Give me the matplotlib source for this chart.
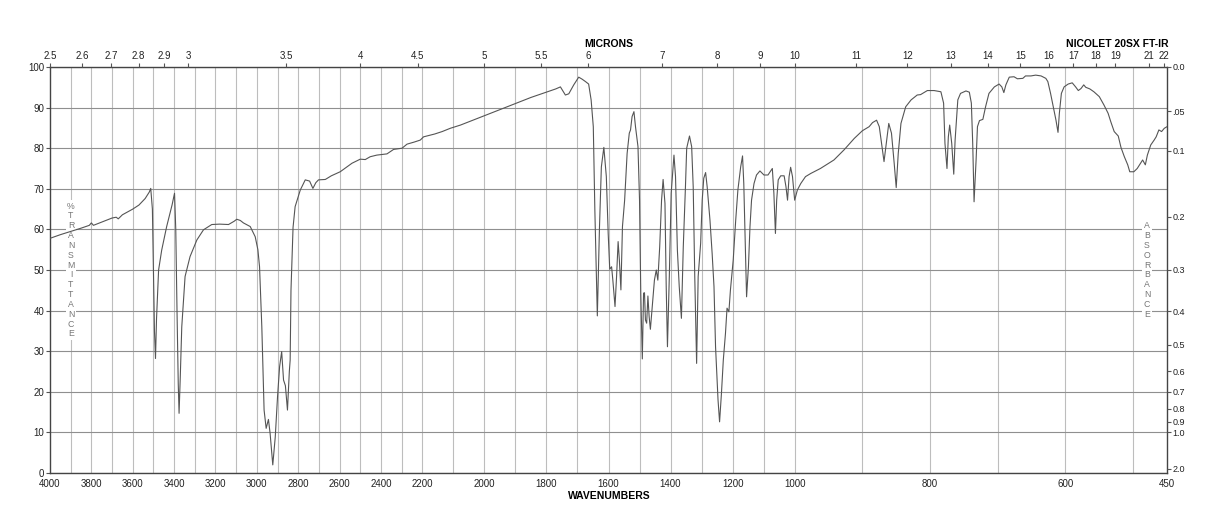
import numpy as np
import matplotlib
matplotlib.use("Agg")
import matplotlib.pyplot as plt

# --- Spectrum data ---
wavenumber = [
    4000, 3950, 3900, 3850, 3810, 3800, 3790, 3750, 3700, 3680, 3670, 3650, 3600, 3570, 3540, 3520,
    3513, 3505, 3500, 3495, 3490, 3485, 3475, 3460, 3436, 3410, 3398, 3392, 3386, 3380, 3376, 3370,
    3363, 3347, 3323, 3290, 3258, 3218, 3180, 3137, 3110, 3097, 3080, 3065, 3032, 3008, 2995, 2987,
    2976, 2965, 2955, 2944, 2936, 2923, 2911, 2900, 2890, 2880, 2871, 2862, 2852, 2843, 2839, 2835,
    2825, 2815, 2790, 2766, 2745, 2729, 2715, 2702, 2669, 2640, 2597, 2570, 2540, 2500, 2476, 2452,
    2420, 2371, 2339, 2298, 2274, 2240, 2210, 2196, 2160, 2136, 2110, 2077, 2040, 2000, 1950, 1900,
    1850, 1800, 1770, 1755, 1739, 1728, 1712, 1696, 1685, 1674, 1664, 1656, 1649, 1644, 1636, 1629,
    1623, 1615, 1607, 1601, 1596, 1590, 1586, 1579, 1574, 1569, 1565, 1560, 1555, 1548, 1540, 1533,
    1529, 1524, 1518, 1513, 1505, 1500, 1496, 1491, 1487, 1484, 1481, 1477, 1473, 1469, 1465, 1459,
    1452, 1446, 1441, 1435, 1429, 1424, 1418, 1414, 1410, 1404, 1398, 1389, 1384, 1378, 1372, 1365,
    1359, 1352, 1348, 1339, 1332, 1327, 1322, 1316, 1311, 1303, 1298, 1293, 1287, 1282, 1273, 1266,
    1260, 1255, 1247, 1242, 1236, 1230, 1223, 1218, 1212, 1207, 1198, 1190, 1183, 1174, 1168, 1164,
    1159, 1155, 1149, 1144, 1139, 1131, 1123, 1112, 1099, 1086, 1072, 1067, 1062, 1058, 1053, 1045,
    1034, 1028, 1023, 1018, 1013, 1007, 1000, 996, 991, 984, 976, 962, 942, 927, 912, 900,
    890, 885, 879, 875, 871, 868, 864, 861, 857, 853, 850, 847, 843, 836, 828, 819,
    814, 804, 794, 784, 780, 778, 775, 773, 771, 768, 765, 763, 759, 755, 747, 742,
    739, 737, 735, 732, 730, 727, 722, 718, 713, 705, 698, 694, 691, 688, 683, 676,
    671, 663, 659, 651, 644, 636, 629, 626, 622, 618, 614, 611, 609, 606, 602, 596,
    590, 585, 581, 577, 573, 570, 564, 558, 550, 543, 537, 533, 528, 522, 518, 513,
    508, 505, 499, 494, 489, 486, 482, 479, 474, 469, 466, 462, 458, 454, 450,
]
transmittance = [
    57.8, 58.7, 59.5, 60.3, 61.0, 61.6, 61.0, 61.8, 62.8, 63.0, 62.6, 63.6, 65.0, 66.0, 67.6, 69.2,
    70.1, 65.0, 50.0, 35.0, 28.2, 38.0, 50.0, 54.9, 60.7, 66.0, 68.9, 60.0, 40.0, 22.0, 14.7, 24.0,
    36.0, 48.4, 53.3, 57.4, 59.9, 61.2, 61.3, 61.2, 62.0, 62.5, 62.2, 61.6, 60.7, 58.2, 55.0, 50.8,
    36.0, 15.5, 11.0, 13.2, 9.8, 2.0, 8.9, 18.8, 26.2, 29.9, 22.9, 21.5, 15.5, 25.0, 27.8, 45.0,
    60.5, 65.6, 69.7, 72.2, 71.9, 70.1, 71.5, 72.2, 72.3, 73.2, 74.2, 75.2, 76.3, 77.3, 77.2, 77.9,
    78.3, 78.6, 79.7, 80.0, 81.0, 81.5, 82.0, 82.8, 83.5, 84.1, 84.9, 85.7, 86.8, 88.0, 89.5, 91.0,
    92.5, 93.8, 94.6, 95.1, 93.1, 93.4, 95.6, 97.5, 97.0, 96.4, 95.8, 91.9, 85.3, 64.8, 38.7, 60.7,
    75.4, 80.2, 73.0, 59.0, 50.2, 50.8, 47.5, 41.0, 48.4, 57.0, 52.5, 45.1, 60.7, 67.2, 78.7, 83.7,
    84.5, 87.8, 89.0, 85.3, 80.4, 67.2, 44.3, 28.1, 44.3, 44.4, 37.7, 36.9, 43.6, 38.5, 35.4, 41.0,
    47.5, 50.0, 47.5, 55.7, 67.2, 72.3, 66.4, 45.9, 31.1, 48.4, 68.9, 78.3, 73.0, 54.9, 45.9, 38.1,
    55.7, 70.5, 80.0, 83.0, 80.4, 70.5, 48.4, 27.0, 48.4, 56.6, 67.2, 72.6, 74.0, 70.5, 62.3, 54.1,
    45.9, 31.1, 18.0, 12.6, 19.6, 27.8, 34.4, 40.6, 39.7, 45.1, 52.5, 62.3, 69.7, 75.4, 78.1, 71.3,
    55.7, 43.4, 50.8, 60.7, 67.2, 71.3, 73.4, 74.4, 73.4, 73.4, 75.0, 68.9, 59.0, 67.2, 72.2, 73.2,
    73.2, 70.5, 67.2, 73.0, 75.3, 73.0, 67.2, 69.7, 71.3, 73.0, 73.8, 75.0, 77.1, 79.6, 82.4, 84.3,
    85.3, 86.3, 86.9, 85.3, 80.4, 76.7, 82.0, 86.1, 83.7, 76.3, 70.3, 78.7, 86.1, 90.2, 91.9, 93.1,
    93.2, 94.2, 94.2, 93.9, 91.1, 81.2, 75.0, 82.8, 85.7, 81.2, 73.6, 82.0, 91.9, 93.5, 94.1, 93.8,
    91.1, 81.2, 66.8, 77.1, 85.3, 86.8, 87.1, 90.2, 93.5, 95.1, 95.8, 95.1, 93.7, 95.6, 97.5, 97.6,
    97.1, 97.2, 97.8, 97.8, 98.0, 97.8, 97.2, 96.4, 93.5, 90.2, 86.9, 83.9, 88.6, 93.5, 95.1, 95.8,
    96.1, 95.1, 94.2, 94.7, 95.6, 95.0, 94.6, 93.9, 92.7, 90.6, 88.6, 86.5, 84.1, 83.0, 80.2, 77.9,
    75.9, 74.2, 74.2, 75.0, 76.3, 77.1, 75.9, 78.3, 80.8, 82.0, 82.8, 84.5, 84.1, 84.9, 85.3,
]

# --- Axis labels ---
wn_ticks = [4000, 3800, 3600, 3400, 3200, 3000, 2800, 2600, 2400, 2200,
            2000, 1800, 1600, 1400, 1200, 1000, 800, 600, 450]
micron_ticks = [2.5, 2.6, 2.7, 2.8, 2.9, 3, 3.5, 4, 4.5, 5, 5.5, 6, 7, 8, 9, 10,
                11, 12, 13, 14, 15, 16, 17, 18, 19, 21, 22]
absorb_ticks = [0.0, 0.05, 0.1, 0.2, 0.3, 0.4, 0.5, 0.6, 0.7, 0.8, 0.9, 1.0, 2.0]
absorb_labels = ['0.0', '.05', '0.1', '0.2', '0.3', '0.4', '0.5', '0.6', '0.7',
                 '0.8', '0.9', '1.0', '2.0']

# chart paper: 4000-2200, 2200-1000 and 1000-450 each take a third of the width
BREAKS = [450, 1000, 2200, 4000]
SEGS = [0, 1, 2, 3]


def fwd(w):
    return np.interp(w, BREAKS, SEGS)


def inv(u):
    return np.interp(u, SEGS, BREAKS)


plt.rcParams['font.family'] = ['Liberation Sans', 'DejaVu Sans']
plt.rcParams['font.size'] = 7

fig = plt.figure(figsize=(12.18, 5.28), dpi=100)
rect = [50 / 1218, 1 - 473 / 528, 1117 / 1218, 406 / 528]
ax = fig.add_axes(rect)

ax.set_xscale('function', functions=(fwd, inv))
ax.set_xlim(4000, 450)
ax.set_ylim(0, 100)
ax.set_axisbelow(True)

ax.plot(wavenumber, transmittance, color='#555555', lw=0.8, zorder=3)

# grid
ax.xaxis.remove_overlapping_locs = False
ax.set_xticks(wn_ticks)
ax.set_xticklabels([str(t) for t in wn_ticks])
ax.set_xticks(range(500, 4000, 100), minor=True)
ax.set_yticks(range(0, 101, 10))
ax.grid(which='minor', axis='x', color='#bdbdbd', lw=0.8)
ax.grid(which='major', axis='y', color='#8f8f8f', lw=0.8)
ax.tick_params(axis='x', which='both', length=0, pad=4, colors='#222222')
ax.tick_params(axis='y', direction='out', length=3, pad=1, colors='#222222', color='#555555')
for s in ax.spines.values():
    s.set_color('#444444')
    s.set_linewidth(1.0)

# stacked side captions, under the trace but over the grid
box = dict(facecolor='white', edgecolor='none', pad=1)
ax.text(21 / 1117, 203 / 406, '\n'.join('%TRANSMITTANCE'), transform=ax.transAxes,
        ha='center', va='center', fontsize=6.3, color='#777777', linespacing=1.12,
        bbox=box, zorder=2)
ax.text(1097 / 1117, 203 / 406, '\n'.join('ABSORBANCE'), transform=ax.transAxes,
        ha='center', va='center', fontsize=6.3, color='#777777', linespacing=1.12,
        bbox=box, zorder=2)

# absorbance on the right
ax_r = ax.twinx()
ax_r.set_ylim(0, 100)
ax_r.set_yticks([100 * 10 ** (-a) for a in absorb_ticks])
ax_r.set_yticklabels(absorb_labels)
ax_r.tick_params(axis='y', direction='out', length=3, pad=1, labelsize=6.5,
                 colors='#222222', color='#555555')
for s in ax_r.spines.values():
    s.set_visible(False)

# microns on top
ax_t = fig.add_axes(rect, frameon=False)
ax_t.set_xscale('function', functions=(fwd, inv))
ax_t.set_xlim(4000, 450)
ax_t.set_xticks([1e4 / m for m in micron_ticks])
ax_t.set_xticklabels(['%g' % m for m in micron_ticks])
ax_t.set_xticks([], minor=True)
ax_t.xaxis.tick_top()
ax_t.tick_params(axis='x', direction='out', length=3, pad=1, colors='#222222', color='#555555')
ax_t.set_yticks([])

# --- Titles ---
fig.text(0.5, 1 - 44 / 528, 'MICRONS', ha='center', va='center', fontsize=7.5, fontweight='bold')
fig.text(1168 / 1218, 1 - 44 / 528, 'NICOLET 20SX FT-IR', ha='right', va='center',
         fontsize=7.5, fontweight='bold')
fig.text(0.5, 1 - 496 / 528, 'WAVENUMBERS', ha='center', va='center', fontsize=7.5,
         fontweight='bold')

fig.savefig('out.png', dpi=100)
